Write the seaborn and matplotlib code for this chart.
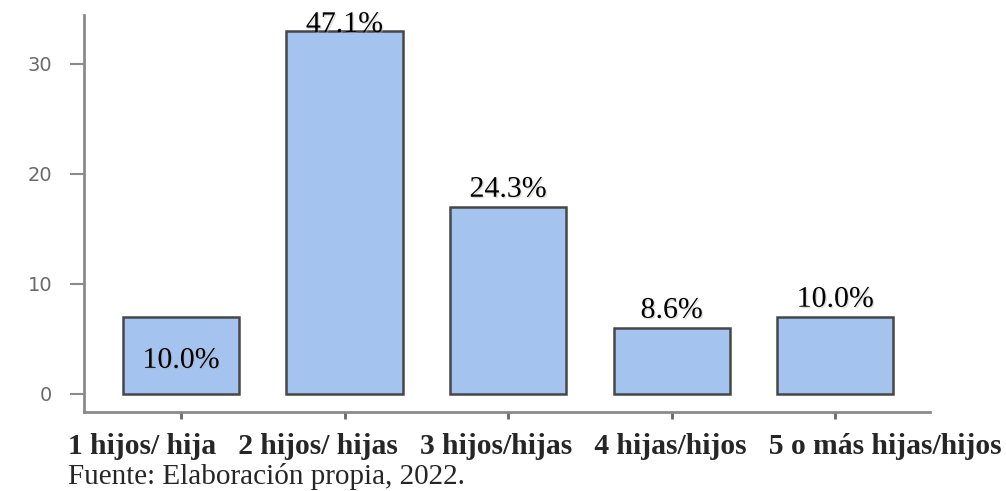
import matplotlib
matplotlib.use("Agg")
import matplotlib.pyplot as plt
import matplotlib.patheffects as pe
import pandas as pd
import seaborn as sns

# Data
categories = ["1 hijos/ hija", "2 hijos/ hijas", "3 hijos/hijas", "4 hijas/hijos", "5 o más hijas/hijos"]
counts = [7, 33, 17, 6, 7]
pct_labels = ["10.0%", "47.1%", "24.3%", "8.6%", "10.0%"]
source_note = "Fuente: Elaboración propia, 2022."

df = pd.DataFrame({"cat": categories, "n": counts})

sns.set_style("white")
plt.rcParams["font.family"] = ["DejaVu Sans"]

fig = plt.figure(figsize=(10.06, 4.91), dpi=100)
ax = fig.add_axes([0.0835, 0.161, 0.841, 0.8085])

sns.barplot(data=df, x="cat", y="n", color="#a4c3ef", saturation=1,
            width=0.71, edgecolor="#474747", linewidth=1.8, ax=ax)

ax.set_ylim(-1.64, 34.45)
ax.set_xlim(-0.593, 4.58)
ax.set_yticks([0, 10, 20, 30])
ax.set_xlabel("")
ax.set_ylabel("")

for s in ["top", "right"]:
    ax.spines[s].set_visible(False)
for s in ["left", "bottom"]:
    ax.spines[s].set_color("#8a8a8a")
    ax.spines[s].set_linewidth(2)

ax.tick_params(axis="y", length=10, width=1.5, color="#8a8a8a",
               labelsize=14, labelcolor="#6a6a6a", pad=13, left=True)
ax.tick_params(axis="x", length=5, width=2, color="#666666", bottom=True,
               labelbottom=False)

# category names sit as one line of text under the axis, as in the source
fig.text(68 / 1006, 1 - 446 / 491, "   ".join(categories), ha="left", va="center",
         fontsize=21.3, fontweight="bold", family="Liberation Serif")

shadow = [pe.SimplePatchShadow(offset=(1, -1), shadow_rgbFace="#b0b0b0", alpha=0.4), pe.Normal()]
for i, (v, t) in enumerate(zip(counts, pct_labels)):
    if i == 0:
        ax.text(i, v * 0.43, t, ha="center", va="center", fontsize=21.5,
                family="Liberation Serif", color="black", path_effects=shadow)
    else:
        off = -5 if v == max(counts) else 3
        ax.annotate(t, (i, v), xytext=(0, off), textcoords="offset points",
                    ha="center", va="bottom", fontsize=21.5, color="black",
                    family="Liberation Serif", path_effects=shadow)

fig.text(68 / 1006, 1 - 477 / 491, source_note, ha="left", va="center",
         fontsize=21, family="Liberation Serif")

fig.savefig("out.png", dpi=100)
